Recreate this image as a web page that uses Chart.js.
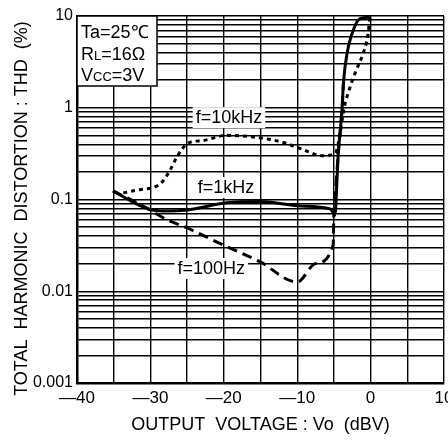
<!DOCTYPE html>
<html>
<head>
<meta charset="utf-8">
<script src="https://cdn.jsdelivr.net/npm/chart.js@4.4.1/dist/chart.umd.min.js"></script>
<style>
  html, body { margin: 0; padding: 0; background: #fff; }
</style>
</head>
<body>
<canvas id="myChart" width="448" height="441"></canvas>
<script>
// tick positions
var xTicks = [-40, -35, -30, -25, -20, -15, -10, -5, 0, 5, 10];
var yTicks = [0.001, 0.002, 0.003, 0.004, 0.005, 0.006, 0.007, 0.008, 0.009,
              0.01, 0.02, 0.03, 0.04, 0.05, 0.06, 0.07, 0.08, 0.09,
              0.1, 0.2, 0.3, 0.4, 0.5, 0.6, 0.7, 0.8, 0.9,
              1, 2, 3, 4, 5, 6, 7, 8, 9, 10];
var yLabels = ['0.001', '0.01', '0.1', '1', '10'];

// f=10kHz (dotted)
var vo10k  = [-33.7, -31.5, -29.4, -28.4, -27.3, -26.4, -24.9, -22.8, -19.6, -15.1, -12.0, -9.6, -6.5, -4.8, -4.3, -3.6, -3.0, -2.1, -1.0, -0.4, -0.1];
var thd10k = [0.118, 0.128, 0.137, 0.155, 0.21, 0.29, 0.41, 0.44, 0.50, 0.47, 0.42, 0.36, 0.30, 0.32, 0.45, 1.0, 1.5, 2.4, 3.95, 6.0, 9.7];

// f=1kHz (solid)
var vo1k  = [-35.1, -32.5, -29.8, -27.5, -25.0, -19.6, -15.1, -9.6, -5.5, -4.85, -4.6, -4.4, -4.1, -3.9, -3.7, -3.2, -2.5, -1.7, -0.8, -0.1];
var thd1k = [0.124, 0.095, 0.077, 0.075, 0.077, 0.092, 0.095, 0.085, 0.079, 0.068, 0.15, 0.32, 0.6, 0.94, 1.86, 3.95, 6.5, 9.0, 9.6, 9.7];

// f=100Hz (dashed)
var vo100  = [-35.1, -31.0, -27.7, -25.0, -20.1, -15.1, -10.0, -7.5, -5.1, -5.0, -4.7, -4.4, -4.1, -3.9, -3.7];
var thd100 = [0.124, 0.085, 0.060, 0.049, 0.032, 0.021, 0.0126, 0.020, 0.032, 0.07, 0.15, 0.32, 0.6, 0.94, 1.86];

var notes = [
  {text: 'f=10kHz', x: -19.3, y: 0.79},
  {text: 'f=1kHz',  x: -19.7, y: 0.137},
  {text: 'f=100Hz', x: -21.7, y: 0.0179}
];

function pts(xs, ys) {
  return xs.map(function(v, i) { return {x: v, y: ys[i]}; });
}

var FONT = '"Liberation Sans", Arial, sans-serif';

var extras = {
  id: 'extras',
  afterDatasetsDraw: function(chart) {
    var c = chart.ctx, xs = chart.scales.x, ys = chart.scales.y, a = chart.chartArea;
    c.save();
    // curve labels on white
    c.font = '18px ' + FONT;
    c.textAlign = 'center';
    c.textBaseline = 'middle';
    notes.forEach(function(n) {
      var px = xs.getPixelForValue(n.x), py = ys.getPixelForValue(n.y);
      var w = c.measureText(n.text).width;
      c.fillStyle = '#fff';
      c.fillRect(px - w / 2 - 3, py - 10, w + 6, 21);
      c.fillStyle = '#000';
      c.fillText(n.text, px, py + 1);
    });

    // conditions box
    c.fillStyle = '#fff';
    c.fillRect(a.left, a.top, 80, 70);
    c.strokeStyle = '#000';
    c.lineWidth = 1.5;
    c.strokeRect(a.left, a.top, 80, 70);
    c.fillStyle = '#000';
    c.textAlign = 'left';
    c.textBaseline = 'alphabetic';
    var bx = a.left + 4;
    c.font = '18px ' + FONT;
    c.fillText('Ta=25℃', bx, a.top + 22);
    // RL=16Ω
    c.fillText('R', bx, a.top + 44);
    var w = c.measureText('R').width;
    c.font = '13px ' + FONT;
    c.fillText('L', bx + w, a.top + 44);
    w += c.measureText('L').width;
    c.font = '18px ' + FONT;
    c.fillText('=16Ω', bx + w, a.top + 44);
    // Vcc=3V
    c.fillText('V', bx, a.top + 65);
    w = c.measureText('V').width;
    c.font = '13px ' + FONT;
    c.fillText('CC', bx + w, a.top + 65);
    w += c.measureText('CC').width;
    c.font = '18px ' + FONT;
    c.fillText('=3V', bx + w, a.top + 65);

    // y title
    c.translate(22, (a.top + a.bottom) / 2 + 9);
    c.rotate(-Math.PI / 2);
    c.textAlign = 'center';
    c.textBaseline = 'middle';
    c.font = '18px ' + FONT;
    c.fillText('TOTAL  HARMONIC  DISTORTION : THD  (%)', 0, 0);
    c.restore();
  }
};

var ctx = document.getElementById('myChart').getContext('2d');
var lineStyle = {showLine: true, borderColor: '#000', backgroundColor: '#000', borderWidth: 3, pointRadius: 0, tension: 0, cubicInterpolationMode: 'monotone'};
var myChart = new Chart(ctx, {
  type: 'scatter',
  data: {
    datasets: [
      Object.assign({data: pts(vo10k, thd10k), borderDash: [4, 4]}, lineStyle),
      Object.assign({data: pts(vo1k, thd1k)}, lineStyle),
      Object.assign({data: pts(vo100, thd100), borderDash: [10, 6]}, lineStyle)
    ]
  },
  options: {
    responsive: false,
    animation: false,
    layout: {padding: {top: 16, right: 4, left: 0, bottom: 0}},
    plugins: {legend: {display: false}, tooltip: {enabled: false}, colors: {enabled: false}},
    scales: {
      x: {
        type: 'linear',
        min: -40,
        max: 10,
        afterBuildTicks: function(s) { s.ticks = xTicks.map(function(v) { return {value: v}; }); },
        afterFit: function(s) { s.height = 58; s.paddingLeft = 0; s.paddingRight = 0; },
        ticks: {
          autoSkip: false,
          maxRotation: 0,
          color: '#000',
          padding: 5,
          font: {family: FONT, size: 17},
          callback: function(v) {
            if (v % 10 !== 0) return '';
            return v < 0 ? '\u2014' + Math.abs(v) : String(v);
          }
        },
        grid: {color: '#000', lineWidth: 1.4, drawTicks: false},
        border: {color: '#000', width: 2.5},
        title: {
          display: true,
          text: 'OUTPUT  VOLTAGE : Vo  (dBV)',
          color: '#000',
          font: {family: FONT, size: 18},
          padding: {top: 0, bottom: 5}
        }
      },
      y: {
        type: 'logarithmic',
        min: 0.001,
        max: 10,
        afterBuildTicks: function(s) { s.ticks = yTicks.map(function(v) { return {value: v}; }); },
        afterFit: function(s) { s.width = 77; },
        ticks: {
          autoSkip: false,
          color: '#000',
          padding: 4,
          font: {family: FONT, size: 16},
          callback: function(v) {
            var s = String(+v.toPrecision(3));
            return yLabels.indexOf(s) >= 0 ? s : '';
          }
        },
        grid: {color: '#000', lineWidth: 1.4, drawTicks: false},
        border: {color: '#000', width: 2.5}
      }
    }
  },
  plugins: [extras]
});
</script>
</body>
</html>
